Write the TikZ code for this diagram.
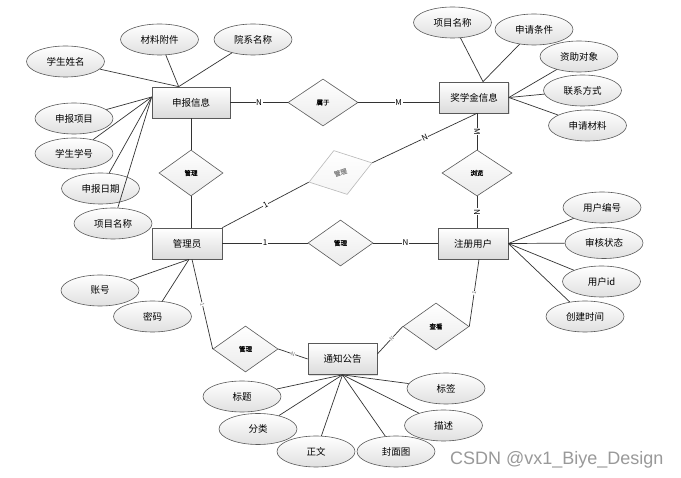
\documentclass[tikz,border=0pt]{standalone}
\usepackage{fontspec}
\setmainfont{Noto Sans CJK SC}
\newfontfamily\dfont{Noto Sans CJK SC}[FakeBold=1.2]
\newfontfamily\wmfont{Liberation Sans}
\usetikzlibrary{shapes.geometric,shadows,calc}
\begin{document}
\begin{tikzpicture}[x=1pt,y=-1pt,
 every node/.style={font=\fontsize{9.5}{11}\selectfont},
 ent/.style={draw=black!65, line width=0.7pt, rectangle, minimum width=70pt, minimum height=31pt, inner sep=0pt, top color=white, bottom color=black!14, drop shadow={shadow xshift=1.2pt,shadow yshift=-1.2pt,opacity=0.25}},
 attr/.style={draw=black!65, line width=0.6pt, ellipse, minimum width=78pt, minimum height=31pt, inner sep=0pt, top color=white, bottom color=black!12},
 rel/.style={draw=black!65, line width=0.6pt, diamond, minimum width=66pt, minimum height=46pt, inner sep=0pt, top color=white, bottom color=black!8, font=\dfont\fontsize{6.5}{7}\selectfont},
 ln/.style={draw=black!80, line width=0.7pt},
 card/.style={fill=white, inner sep=0.6pt, font=\fontsize{8}{8}\selectfont, sloped},
 cards/.style={fill=white, inner sep=0.3pt, font=\fontsize{5.5}{6}\selectfont, text=black!55, sloped}]
\fill[white] (0,0) rectangle (681,478);
\useasboundingbox (0,0) rectangle (681,478);

% entities
\node[ent, minimum width=78pt] (sb) at (191,102.5) {申报信息};
\node[ent, minimum width=69pt] (jx) at (474,97.5) {奖学金信息};
\node[ent] (gly) at (187,243.5) {管理员};
\node[ent] (zc) at (473,243.5) {注册用户};
\node[ent, minimum width=69pt] (tz) at (342.5,359) {通知公告};

% relationships
\node[rel, minimum width=70pt, minimum height=47pt] (sy) at (323,102.5) {属于};
\node[rel, minimum width=64pt] (gl1) at (191,173) {管理};
\node[rel, minimum width=70pt] (ll) at (477,173) {浏览};
\node[rel, minimum width=65pt] (gl2) at (340.5,243) {管理};
\node[rel, minimum width=65pt] (gl3) at (245.5,349) {管理};
\node[rel, minimum height=47pt] (ck) at (436,326.5) {查看};
\node[rel, draw=black!28, text=black!45, top color=white, bottom color=black!4, rotate=17] (fd) at (340.5,172.5) {管理};

% attributes
\node[attr] (a1) at (65.5,61.5) {学生姓名};
\node[attr] (a2) at (159.5,39.5) {材料附件};
\node[attr] (a3) at (253,39.5) {院系名称};
\node[attr] (a4) at (74,118.5) {申报项目};
\node[attr] (a5) at (74,153.5) {学生学号};
\node[attr] (a6) at (100.5,188.5) {申报日期};
\node[attr] (a7) at (113,223.5) {项目名称};
\node[attr] (b1) at (452.5,22.5) {项目名称};
\node[attr] (b2) at (534,29.5) {申请条件};
\node[attr] (b3) at (579,56.5) {资助对象};
\node[attr] (b4) at (582.5,90.5) {联系方式};
\node[attr] (b5) at (587.5,125.5) {申请材料};
\node[attr] (c1) at (100,290.5) {账号};
\node[attr] (c2) at (152.5,316.5) {密码};
\node[attr] (d1) at (602,207.5) {用户编号};
\node[attr] (d2) at (604,243) {审核状态};
\node[attr] (d3) at (601.5,281.5) {用户id};
\node[attr] (d4) at (585,316.5) {创建时间};
\node[attr] (e1) at (242,396.5) {标题};
\node[attr] (e2) at (258,429) {分类};
\node[attr] (e3) at (316,451.5) {正文};
\node[attr] (e4) at (396,451.5) {封面图};
\node[attr] (e5) at (443.5,425.5) {描述};
\node[attr] (e6) at (446,388.5) {标签};

% connection points
\coordinate (sbT) at ($(sb.north west)+(27,0)$);
\coordinate (sbL) at ($(sb.west)+(0,-5.5)$);
\coordinate (jxT) at ($(jx.north)+(9,0)$);
\coordinate (jxR) at (jx.east);
\coordinate (jxB) at ($(jx.south)+(3,0)$);
\coordinate (glyB) at ($(gly.south)+(2,0)$);
\coordinate (glyB2) at ($(gly.south)+(5,0)$);
\coordinate (zcR) at (zc.east);
\coordinate (zcB) at ($(zc.south)+(6,0)$);
\coordinate (tzB) at (tz.south);
\coordinate (tzR) at ($(tz.east)+(0,-5)$);

% attribute lines
\foreach \a in {a1,a2,a3} \draw[ln] (\a) -- (sbT);
\foreach \a in {a4,a5,a6,a7} \draw[ln] (\a) -- (sbL);
\foreach \a in {b1,b2} \draw[ln] (\a) -- (jxT);
\foreach \a in {b3,b4,b5} \draw[ln] (\a) -- (jxR);
\foreach \a in {c1,c2} \draw[ln] (\a) -- (glyB);
\foreach \a in {d1,d2,d3,d4} \draw[ln] (\a) -- (zcR);
\foreach \a in {e1,e2,e3,e4,e5,e6} \draw[ln] (\a) -- (tzB);

% relationship lines
\draw[ln] (sb.east |- sy.west) -- node[card]{N} (sy.west);
\draw[ln] (sy.east) -- node[card]{M} (sy.east -| jx.west);
\draw[ln] (sb.south -| gl1.north) -- (gl1.north);
\draw[ln] (gl1.south) -- (gl1.south |- gly.north);
\draw[ln] (ll.north |- jx.south) -- node[card]{M} (ll.north);
\draw[ln] (ll.south) -- node[card]{N} (ll.south |- zc.north);
\draw[ln] (gly.east |- gl2.west) -- node[card]{1} (gl2.west);
\draw[ln] (gl2.east) -- node[card]{N} (gl2.east -| zc.west);
\draw[ln] (gly.north east) -- node[card]{1} (fd.west);
\draw[ln] (fd.east) -- node[card]{N} (jxB);
\draw[ln] (glyB2) -- node[cards]{1} (gl3.west);
\draw[ln] (gl3.east) -- node[cards]{N} (tz.west);
\draw[ln] (tzR) -- node[cards, pos=0.57]{N} (ck.west);
\draw[ln] (ck.east) -- node[cards]{1} (zcB);

% watermark
\node[anchor=base west, inner sep=0pt, text=black!40, font=\wmfont\fontsize{18}{18}\selectfont] (wm) at (450,465) {CSDN @vx1\_Biye\_Design};
\end{tikzpicture}
\end{document}
